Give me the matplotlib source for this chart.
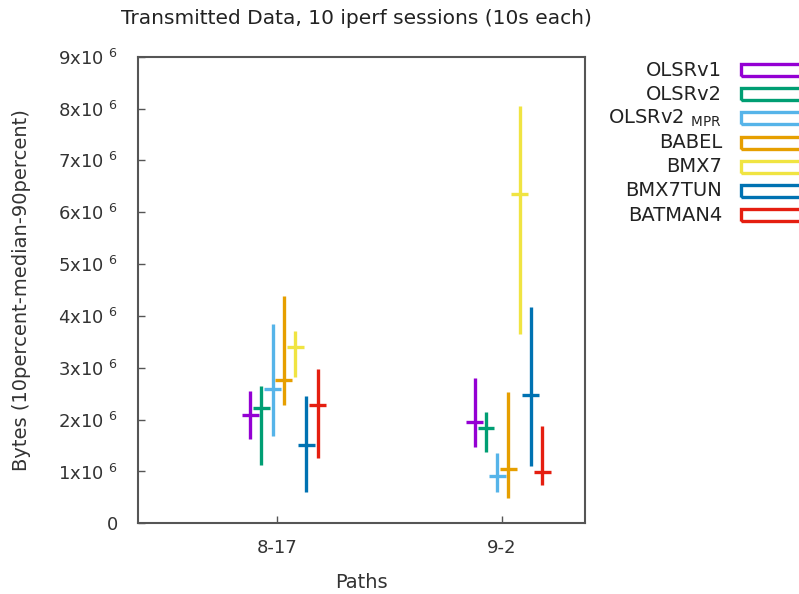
import numpy as np
import matplotlib.pyplot as plt
from matplotlib.patches import Rectangle

paths = ['8-17', '9-2']
protocols = ['OLSRv1', 'OLSRv2', 'OLSRv2 $_{\\mathrm{MPR}}$', 'BABEL', 'BMX7', 'BMX7TUN', 'BATMAN4']
colors = ['#9400d3', '#009e73', '#56b4e9', '#e69f00', '#f0e442', '#0072b2', '#e51e10']

# wartosci w 1e6 bajtow: [8-17, 9-2]
p10 = {
    'OLSRv1':  [1.63, 1.48],
    'OLSRv2':  [1.13, 1.38],
    'MPR':     [1.68, 0.61],
    'BABEL':   [2.28, 0.49],
    'BMX7':    [2.82, 3.65],
    'BMX7TUN': [0.61, 1.11],
    'BATMAN4': [1.26, 0.73],
}
median = {
    'OLSRv1':  [2.08, 1.96],
    'OLSRv2':  [2.23, 1.83],
    'MPR':     [2.60, 0.91],
    'BABEL':   [2.76, 1.04],
    'BMX7':    [3.40, 6.36],
    'BMX7TUN': [1.51, 2.48],
    'BATMAN4': [2.28, 0.99],
}
p90 = {
    'OLSRv1':  [2.56, 2.80],
    'OLSRv2':  [2.65, 2.15],
    'MPR':     [3.85, 1.36],
    'BABEL':   [4.38, 2.53],
    'BMX7':    [3.70, 8.05],
    'BMX7TUN': [2.46, 4.18],
    'BATMAN4': [2.98, 1.88],
}
keys = ['OLSRv1', 'OLSRv2', 'MPR', 'BABEL', 'BMX7', 'BMX7TUN', 'BATMAN4']

W, H = 799, 594
fig = plt.figure(figsize=(W / 100, H / 100), dpi=100)
ax = fig.add_axes([137.5 / W, 1 - 523.3 / H, (585 - 137.5) / W, (523.3 - 56.7) / H])

x = np.arange(len(paths))
half = 0.0375
for i, k in enumerate(keys):
    xs = x - 0.12 + 0.05 * i
    lo = np.array(p10[k]) * 1e6
    hi = np.array(p90[k]) * 1e6
    md = np.array(median[k]) * 1e6
    ax.vlines(xs, lo, hi, colors=colors[i], linewidth=2.4, capstyle='butt')
    ax.hlines(md, xs - half, xs + half, colors=colors[i], linewidth=2.4, capstyle='butt')

ax.set_xlim(-0.622, 1.371)
ax.set_ylim(0, 9e6)
ax.set_xticks(x)
ax.set_xticklabels(paths, fontsize=13, color='#333333')
yt = np.arange(0, 10) * 1e6
ax.set_yticks(yt)
ax.set_yticklabels(['0'] + ['%dx10 $^{6}$' % v for v in range(1, 10)], fontsize=13, color='#333333')
ax.tick_params(direction='in', length=5, width=1, color='#555555', top=False, right=False)
ax.tick_params(axis='y', pad=14)
ax.tick_params(axis='x', pad=11)
for s in ax.spines.values():
    s.set_color('#555555')
    s.set_linewidth(1.5)

fig.text(356 / W, 1 - 18 / H, 'Transmitted Data, 10 iperf sessions (10s each)', ha='center', va='center',
         fontsize=14.5, color='#222222')
fig.text(361 / W, 1 - 582 / H, 'Paths', ha='center', va='center', fontsize=14, color='#333333')
fig.text(22 / W, 1 - 290 / H, 'Bytes (10percent-median-90percent)', ha='center', va='center',
         rotation=90, fontsize=14, color='#333333')

# legenda
for i, name in enumerate(protocols):
    yc = 70 + 24.2 * i
    fig.text(722 / W, 1 - yc / H, name, ha='right', va='center', fontsize=14, color='#222222')
    fig.patches.append(Rectangle((741 / W, 1 - (yc + 6) / H), 62 / W, 12 / H, transform=fig.transFigure,
                                 fill=False, edgecolor=colors[i], linewidth=2.4, figure=fig))

fig.savefig('out.png', dpi=100)
